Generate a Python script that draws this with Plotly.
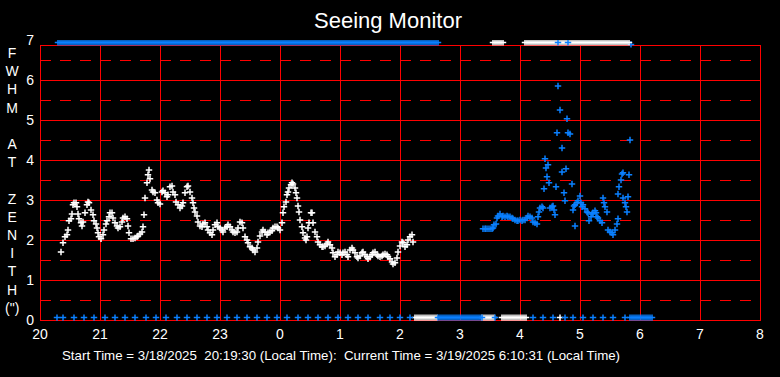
import plotly.graph_objects as go
from datetime import datetime, timedelta

# ---------------- data ----------------
hour_labels = [20, 21, 22, 23, 0, 1, 2, 3, 4, 5, 6, 7, 8]
fwhm_ticks = [0, 1, 2, 3, 4, 5, 6, 7]
solid_levels = [0, 1, 2, 3, 4, 5, 6, 6.875]
dashed_levels = [0.5, 1.5, 2.5, 3.5, 4.5, 5.5, 6.5]

white_times = [
    "20:21", "20:23", "20:25", "20:27", "20:28", "20:29", "20:31", "20:32", "20:33", "20:34", "20:36", "20:37", "20:38", "20:39",
    "20:41", "20:42", "20:43", "20:45", "20:47", "20:48", "20:49", "20:51", "20:53", "20:54", "20:56", "20:57", "20:58", "20:59",
    "21:01", "21:03", "21:04", "21:06", "21:07", "21:09", "21:10", "21:12", "21:13", "21:15", "21:17", "21:18", "21:20", "21:22",
    "21:23", "21:25", "21:27", "21:28", "21:29", "21:31", "21:33", "21:35", "21:37", "21:38", "21:40", "21:42", "21:43", "21:44",
    "21:45", "21:47", "21:48", "21:49", "21:50", "21:52", "21:53", "21:55", "21:57", "21:58",
    "22:00", "22:02", "22:03", "22:05", "22:07", "22:08", "22:10", "22:12", "22:13", "22:15", "22:16", "22:18", "22:20", "22:22",
    "22:23", "22:25", "22:27", "22:28", "22:30", "22:32", "22:33", "22:34", "22:35", "22:37", "22:38", "22:40", "22:42", "22:43",
    "22:45", "22:47", "22:48", "22:50", "22:52", "22:53", "22:55", "22:57", "22:58",
    "23:00", "23:02", "23:03", "23:05", "23:07", "23:08", "23:10", "23:12", "23:13", "23:15", "23:17", "23:18", "23:20", "23:22",
    "23:23", "23:25", "23:27", "23:28", "23:30", "23:32", "23:33", "23:35", "23:37", "23:38", "23:40", "23:42", "23:43", "23:45",
    "23:47", "23:48", "23:50", "23:52", "23:53", "23:55", "23:57", "23:58",
    "0:00", "0:02", "0:03", "0:04", "0:06", "0:07", "0:08", "0:09", "0:11", "0:12", "0:13", "0:15", "0:16", "0:17",
    "0:18", "0:19", "0:20", "0:22", "0:23", "0:25", "0:26", "0:27", "0:28", "0:29", "0:31", "0:32", "0:33", "0:35",
    "0:37", "0:38", "0:40", "0:42", "0:43", "0:45", "0:47", "0:48", "0:50", "0:52", "0:53", "0:55", "0:57", "0:58",
    "1:00", "1:02", "1:03", "1:05", "1:07", "1:08", "1:10", "1:12", "1:13", "1:15", "1:17", "1:18", "1:20", "1:22",
    "1:23", "1:25", "1:27", "1:28", "1:30", "1:32", "1:33", "1:35", "1:37", "1:38", "1:40", "1:42", "1:43", "1:45",
    "1:47", "1:48", "1:50", "1:52", "1:53", "1:55", "1:57", "1:58",
    "2:00", "2:02", "2:03", "2:05", "2:07", "2:08", "2:10", "2:12", "2:13",
]
white_fwhm = [
    1.70, 1.93, 2.08, 2.13, 2.25, 2.48, 2.53, 2.65, 2.88, 2.93, 2.93, 2.83, 2.65, 2.53,
    2.43, 2.35, 2.45, 2.68, 2.88, 2.95, 2.93, 2.75, 2.63, 2.48, 2.40, 2.30, 2.18, 2.08,
    2.03, 2.13, 2.25, 2.40, 2.48, 2.58, 2.68, 2.68, 2.55, 2.43, 2.35, 2.30, 2.33, 2.45,
    2.55, 2.58, 2.53, 2.35, 2.18, 2.03, 2.03, 2.05, 2.08, 2.10, 2.15, 2.20, 2.33, 2.63,
    3.05, 3.43, 3.63, 3.75, 3.53, 3.25, 3.20, 3.18, 3.00, 2.93,
    2.90, 3.20, 3.23, 3.18, 3.08, 3.13, 3.33, 3.35, 3.20, 3.13, 2.95, 2.88, 2.80, 2.85,
    2.93, 3.18, 3.33, 3.35, 3.20, 3.05, 2.93, 2.80, 2.70, 2.60, 2.45, 2.35, 2.33, 2.40,
    2.43, 2.33, 2.25, 2.18, 2.13, 2.25, 2.38, 2.43, 2.33,
    2.30, 2.25, 2.20, 2.30, 2.33, 2.38, 2.33, 2.25, 2.20, 2.18, 2.20, 2.30, 2.45, 2.43,
    2.30, 2.08, 2.00, 1.93, 1.83, 1.80, 1.75, 1.70, 1.80, 1.95, 2.10, 2.20, 2.25, 2.20,
    2.13, 2.18, 2.20, 2.23, 2.30, 2.33, 2.33, 2.30,
    2.25, 2.43, 2.68, 2.83, 2.95, 3.13, 3.20, 3.30, 3.38, 3.43, 3.40, 3.30, 3.18, 3.05,
    2.85, 2.70, 2.50, 2.33, 2.18, 2.05, 2.00, 2.08, 2.30, 2.43, 2.68, 2.68, 2.43, 2.20,
    2.08, 1.95, 1.88, 1.83, 1.83, 1.85, 1.90, 1.95, 1.88, 1.80, 1.68, 1.58, 1.63, 1.70,
    1.68, 1.63, 1.68, 1.70, 1.63, 1.58, 1.75, 1.80, 1.75, 1.68, 1.58, 1.55, 1.60, 1.68,
    1.70, 1.63, 1.58, 1.53, 1.58, 1.63, 1.68, 1.70, 1.63, 1.60, 1.58, 1.60, 1.63, 1.65,
    1.63, 1.58, 1.53, 1.45, 1.40, 1.43, 1.55, 1.70,
    1.85, 1.95, 1.93, 1.83, 1.88, 2.00, 2.08, 2.13, 1.95,
]

blue_times = [
    "3:23", "3:25", "3:26", "3:28", "3:30", "3:32", "3:33", "3:34", "3:36", "3:37", "3:38", "3:40",
    "3:42", "3:43", "3:45", "3:47", "3:48", "3:50", "3:52", "3:53", "3:55", "3:57", "3:58",
    "4:00", "4:02", "4:03", "4:05", "4:07", "4:08", "4:10", "4:12", "4:13", "4:15", "4:17", "4:18",
    "4:19", "4:20", "4:22", "4:23", "4:24", "4:25", "4:26", "4:27", "4:28", "4:29", "4:30", "4:32",
    "4:33", "4:34", "4:35", "4:36", "4:37", "4:38", "4:40", "4:42", "4:42", "4:44", "4:45", "4:46",
    "4:47", "4:48", "4:50", "4:52", "4:53", "4:54", "4:55", "4:55", "4:57", "4:58",
    "5:00", "5:01", "5:02", "5:03", "5:05", "5:07", "5:08", "5:09", "5:11", "5:12", "5:13", "5:15",
    "5:16", "5:17", "5:18", "5:20", "5:22", "5:23", "5:24", "5:25", "5:27", "5:28", "5:30", "5:32",
    "5:33", "5:35", "5:37", "5:38", "5:38", "5:39", "5:41", "5:42", "5:43", "5:43", "5:45", "5:46",
    "5:47", "5:48", "5:49", "5:50", "5:51",
]
blue_fwhm = [
    2.28, 2.28, 2.28, 2.28, 2.28, 2.28, 2.30, 2.38, 2.40, 2.55, 2.60, 2.65,
    2.58, 2.60, 2.58, 2.60, 2.58, 2.58, 2.55, 2.53, 2.50, 2.48, 2.48,
    2.50, 2.48, 2.50, 2.50, 2.55, 2.60, 2.58, 2.55, 2.45, 2.43, 2.40, 2.58,
    2.70, 2.80, 2.83, 2.80, 3.28, 4.03, 3.80, 3.58, 3.88, 3.43, 2.80, 2.83,
    2.85, 2.75, 2.63, 3.33, 4.68, 5.85, 5.25, 4.30, 3.70, 3.18, 2.98, 3.78,
    5.03, 4.68, 4.65, 3.40, 2.75, 2.85, 2.88, 2.35, 2.93, 2.98,
    3.10, 2.93, 2.83, 2.88, 2.78, 2.70, 2.68, 2.48, 2.58, 2.65, 2.68, 2.73,
    2.68, 2.58, 2.55, 2.48, 2.43, 3.05, 2.93, 2.83, 2.70, 2.25, 2.20, 2.18,
    2.13, 2.25, 2.40, 2.53, 3.15, 3.33, 3.50, 3.65, 3.68, 3.05, 2.93, 2.83,
    2.70, 3.08, 3.63, 4.50, 6.89,
]

# off-scale readings pinned to the top / bottom of the frame
high_flag = 6.94
low_flag = 0.06

blue_high_times = [
    "20:18", "20:20", "20:22", "20:24", "20:26", "20:28", "20:30", "20:32", "20:34", "20:36", "20:38",
    "20:40", "20:42", "20:44", "20:46", "20:48", "20:50", "20:52", "20:54", "20:56", "20:58",
    "21:00", "21:02", "21:04", "21:06", "21:08", "21:10", "21:12", "21:14", "21:16", "21:18",
    "21:20", "21:22", "21:24", "21:26", "21:28", "21:30", "21:32", "21:34", "21:36", "21:38",
    "21:40", "21:42", "21:44", "21:46", "21:48", "21:50", "21:52", "21:54", "21:56", "21:58",
    "22:00", "22:02", "22:04", "22:06", "22:08", "22:10", "22:12", "22:14", "22:16", "22:18",
    "22:20", "22:22", "22:24", "22:26", "22:28", "22:30", "22:32", "22:34", "22:36", "22:38",
    "22:40", "22:42", "22:44", "22:46", "22:48", "22:50", "22:52", "22:54", "22:56", "22:58",
    "23:00", "23:02", "23:04", "23:06", "23:08", "23:10", "23:12", "23:14", "23:16", "23:18",
    "23:20", "23:22", "23:24", "23:26", "23:28", "23:30", "23:32", "23:34", "23:36", "23:38",
    "23:40", "23:42", "23:44", "23:46", "23:48", "23:50", "23:52", "23:54", "23:56", "23:58",
    "0:00", "0:02", "0:04", "0:06", "0:08", "0:10", "0:12", "0:14", "0:16", "0:18",
    "0:20", "0:22", "0:24", "0:26", "0:28", "0:30", "0:32", "0:34", "0:36", "0:38",
    "0:40", "0:42", "0:44", "0:46", "0:48", "0:50", "0:52", "0:54", "0:56", "0:58",
    "1:00", "1:02", "1:04", "1:06", "1:08", "1:10", "1:12", "1:14", "1:16", "1:18",
    "1:20", "1:22", "1:24", "1:26", "1:28", "1:30", "1:32", "1:34", "1:36", "1:38",
    "1:40", "1:42", "1:44", "1:46", "1:48", "1:50", "1:52", "1:54", "1:56", "1:58",
    "2:00", "2:02", "2:04", "2:06", "2:08", "2:10", "2:12", "2:14", "2:16", "2:18",
    "2:20", "2:22", "2:24", "2:26", "2:28", "2:30", "2:32", "2:34", "2:36", "2:38",
    "4:38", "4:48",
]
white_high_times = [
    "3:33", "3:35", "3:37", "3:39", "3:41", "3:43",
    "4:05", "4:07", "4:09", "4:11", "4:13", "4:15", "4:17", "4:19", "4:21", "4:23", "4:25",
    "4:27", "4:29", "4:31", "4:33", "4:35", "4:37", "4:39", "4:41", "4:43", "4:45", "4:47",
    "4:49", "4:51", "4:53", "4:55", "4:57", "4:59",
    "5:01", "5:03", "5:05", "5:07", "5:09", "5:11", "5:13", "5:15", "5:17", "5:19", "5:21",
    "5:23", "5:25", "5:27", "5:29", "5:31", "5:33", "5:35", "5:37", "5:39", "5:41", "5:43",
    "5:45", "5:47", "5:49",
]
blue_low_times = [
    "20:17", "20:23", "20:34", "20:44", "20:54", "21:05", "21:15", "21:25", "21:35", "21:46",
    "21:56", "22:06", "22:17", "22:27", "22:37", "22:47", "22:57", "23:07", "23:17", "23:27",
    "23:37", "23:47", "23:57", "0:07", "0:18", "0:28", "0:38", "0:48", "0:58", "1:08",
    "1:18", "1:28", "1:40", "1:50", "2:00", "2:10",
    "2:38", "2:40", "2:42", "2:44", "2:46", "2:48", "2:50", "2:52", "2:54", "2:56", "2:58",
    "3:00", "3:02", "3:04", "3:06", "3:08", "3:10", "3:12", "3:14", "3:16", "3:18", "3:20", "3:22",
    "3:35", "4:13", "4:23", "4:33", "4:45", "4:53", "5:03", "5:13", "5:23", "5:33", "5:45",
    "5:50", "5:52", "5:54", "5:56", "5:58", "6:00", "6:02", "6:04", "6:06", "6:08", "6:10", "6:12",
]
white_low_times = [
    "2:15", "2:17", "2:19", "2:21", "2:23", "2:25", "2:27", "2:29", "2:31", "2:33", "2:35", "2:37",
    "3:22", "3:24", "3:26", "3:28", "3:30", "3:32", "3:34",
    "3:42", "3:44", "3:46", "3:48", "3:50", "3:52", "3:54", "3:56", "3:58", "4:00", "4:02", "4:04", "4:06",
    "4:40",
]

start_day = datetime(2025, 3, 18)


def to_dt(s):
    h, m = (int(v) for v in s.split(":"))
    day = start_day if h >= 12 else start_day + timedelta(days=1)
    return day + timedelta(hours=h, minutes=m)


def hour_dt(h):
    return to_dt(f"{h}:00")


WHITE = "#FFFFFF"
BLUE = "#0A80FF"
RED = "#FF0000"
FONT = "Liberation Sans, Arial, sans-serif"

# half-pixel nudges so 1px grid lines land on whole device pixels
HALF_PX_T = timedelta(seconds=30)   # 1 px = 1 minute on the x axis
HALF_PX_Y = 0.0125                  # 1 px = 0.025 on the y axis


def marks(times, values, color):
    return go.Scatter(
        x=[to_dt(t) for t in times], y=values, mode="markers", hoverinfo="skip",
        marker=dict(symbol="cross-thin", size=4.6, color=color,
                    line=dict(width=1.5, color=color)),
        showlegend=False,
    )


fig = go.Figure()
fig.add_trace(marks(white_times, white_fwhm, WHITE))
fig.add_trace(marks(blue_times, blue_fwhm, BLUE))
fig.add_trace(marks(white_high_times, [high_flag] * len(white_high_times), WHITE))
fig.add_trace(marks(blue_high_times, [high_flag] * len(blue_high_times), BLUE))
fig.add_trace(marks(white_low_times, [low_flag] * len(white_low_times), WHITE))
fig.add_trace(marks(blue_low_times, [low_flag] * len(blue_low_times), BLUE))

x_start = hour_dt(hour_labels[0])
x_end = hour_dt(hour_labels[-1])
frame_top = solid_levels[-1]

shapes = []
for lv in dashed_levels:
    shapes.append(dict(type="line", xref="x", yref="y", x0=x_start, x1=x_end + HALF_PX_T,
                       y0=lv - HALF_PX_Y, y1=lv - HALF_PX_Y,
                       line=dict(color=RED, width=1, dash="11px,9px"), layer="below"))
for lv in solid_levels:
    shapes.append(dict(type="line", xref="x", yref="y", x0=x_start, x1=x_end + 2 * HALF_PX_T,
                       y0=lv - HALF_PX_Y, y1=lv - HALF_PX_Y,
                       line=dict(color=RED, width=1), layer="below"))
for h in hour_labels:
    xv = hour_dt(h) + HALF_PX_T
    shapes.append(dict(type="line", xref="x", yref="y", x0=xv, x1=xv,
                       y0=-2 * HALF_PX_Y, y1=frame_top - HALF_PX_Y,
                       line=dict(color=RED, width=1), layer="below"))

ylabel = "<br>".join(["F", "W", "H", "M", "&nbsp;", "A", "T", "&nbsp;",
                      "Z", "E", "N", "I", "T", "H", "(\")"])

fig.update_layout(
    width=780, height=377,
    margin=dict(l=40, r=19, t=40, b=56),
    paper_bgcolor="black", plot_bgcolor="black",
    font=dict(family=FONT, color=WHITE, size=14),
    title=dict(text="Seeing Monitor", x=388 / 780, xref="container", xanchor="center",
               y=1 - 20 / 377, yref="container", yanchor="middle",
               font=dict(family=FONT, size=22, color=WHITE)),
    shapes=shapes,
    showlegend=False,
    xaxis=dict(type="date", range=[x_start, x_end + 2 * HALF_PX_T],
               tickmode="array", tickvals=[hour_dt(h) for h in hour_labels],
               ticktext=[str(h) for h in hour_labels],
               showgrid=False, zeroline=False, showline=False, ticks="",
               ticklabelstandoff=3,
               tickfont=dict(family=FONT, size=14, color=WHITE), fixedrange=True),
    yaxis=dict(range=[fwhm_ticks[0] - 2 * HALF_PX_Y, fwhm_ticks[-1]], tickmode="array",
               tickvals=fwhm_ticks, ticktext=[str(v) for v in fwhm_ticks],
               showgrid=False, zeroline=False, showline=False, ticks="",
               ticklabelstandoff=5,
               tickfont=dict(family=FONT, size=14, color=WHITE), fixedrange=True),
    annotations=[
        dict(text=ylabel, xref="paper", yref="paper", x=(12 - 40) / 721, y=(321 - 180) / 281,
             xanchor="center", yanchor="middle", showarrow=False, align="center",
             font=dict(family=FONT, size=14, color=WHITE)),
        dict(text="Start Time = 3/18/2025  20:19:30 (Local Time):  Current Time = 3/19/2025 6:10:31 (Local Time)",
             xref="paper", yref="paper", x=(341 - 40) / 721, y=(321 - 355) / 281,
             xanchor="center", yanchor="middle", showarrow=False,
             font=dict(family=FONT, size=13.3, color=WHITE)),
    ],
)

post = "document.body.style.margin='0px';"
fig.write_html("out.html", config={"displayModeBar": False}, post_script=post)
